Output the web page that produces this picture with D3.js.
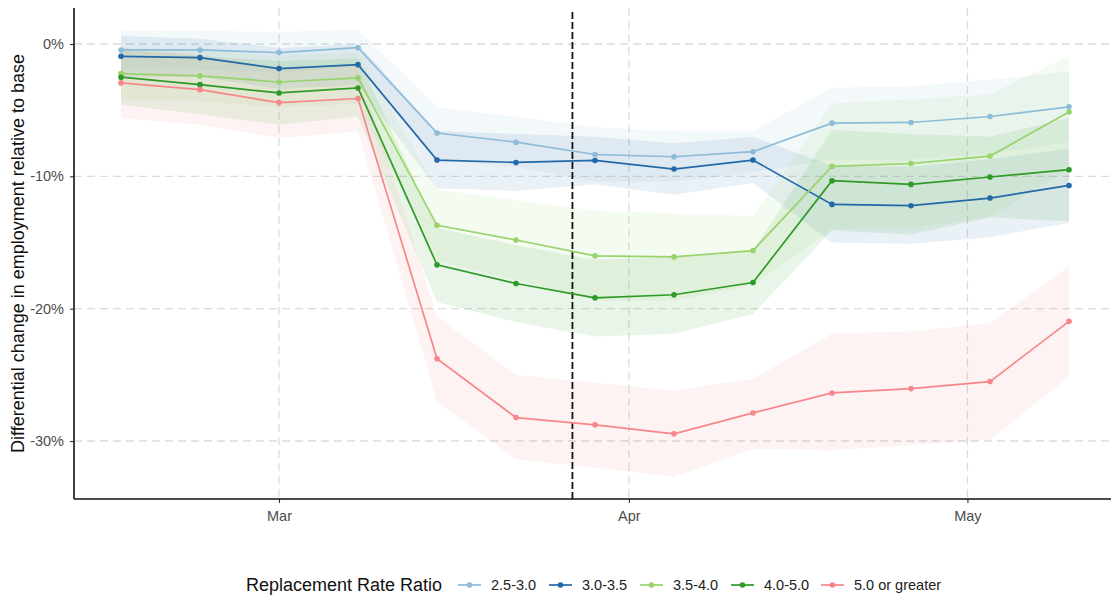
<!DOCTYPE html>
<html lang="en">
<head>
<meta charset="UTF-8">
<title>Replacement Rate Ratio</title>
<script src="https://d3js.org/d3.v7.min.js"></script>
<style>
    body { margin: 0; background: #fff; }
    #chart svg { font-family: "Liberation Sans", Arial, sans-serif; }
</style>
</head>
<body>
<div id="chart"></div>
<script>
// weekly observation dates
var dates = ["2020-02-16", "2020-02-23", "2020-03-01", "2020-03-08", "2020-03-15", "2020-03-22",
             "2020-03-29", "2020-04-05", "2020-04-12", "2020-04-19", "2020-04-26", "2020-05-03", "2020-05-10"];

var groups = ["2.5-3.0", "3.0-3.5", "3.5-4.0", "4.0-5.0", "5.0 or greater"];
var colors = ["#8cbcd8", "#2369a8", "#98d36c", "#2f9a27", "#f7868a"];

// point estimates (%)
var est_25_30 = [-0.45, -0.45, -0.65, -0.28, -6.73, -7.42, -8.35, -8.52, -8.14, -5.98, -5.93, -5.48, -4.75];
var est_30_35 = [-0.93, -1.03, -1.86, -1.56, -8.77, -8.95, -8.80, -9.45, -8.77, -12.12, -12.22, -11.64, -10.69];
var est_35_40 = [-2.24, -2.41, -2.87, -2.56, -13.70, -14.81, -16.01, -16.09, -15.61, -9.25, -9.03, -8.47, -5.13];
var est_40_50 = [-2.51, -3.07, -3.70, -3.32, -16.69, -18.10, -19.18, -18.95, -18.02, -10.33, -10.61, -10.05, -9.50];
var est_50_up = [-2.94, -3.45, -4.43, -4.12, -23.78, -28.23, -28.78, -29.46, -27.88, -26.37, -26.04, -25.51, -20.96];

// confidence band upper / lower edges (%)
var hi_25_30 = [1.0, 1.0, 0.9, 1.1, -4.8, -5.5, -6.3, -6.6, -6.6, -3.3, -3.2, -2.7, -2.1];
var lo_25_30 = [-1.9, -1.9, -2.2, -1.7, -8.7, -9.3, -10.4, -10.4, -9.7, -8.7, -8.7, -8.3, -7.4];
var hi_30_35 = [0.6, 0.4, -0.3, 0.0, -6.6, -6.8, -7.0, -7.5, -7.0, -9.2, -9.3, -8.7, -7.9];
var lo_30_35 = [-2.5, -2.5, -3.4, -3.1, -10.9, -11.1, -10.6, -11.4, -10.5, -15.0, -15.1, -14.6, -13.5];
var hi_35_40 = [-0.3, -0.5, -0.9, -0.6, -11.0, -11.8, -12.6, -12.8, -13.0, -4.5, -4.2, -3.8, -0.9];
var lo_35_40 = [-4.2, -4.3, -4.8, -4.5, -16.4, -17.8, -19.4, -19.4, -18.2, -14.0, -13.9, -13.1, -9.4];
var hi_40_50 = [-0.4, -0.9, -1.3, -1.1, -13.9, -15.2, -16.3, -16.1, -15.6, -6.5, -6.8, -7.0, -5.6];
var lo_40_50 = [-4.6, -5.3, -6.1, -5.5, -19.5, -21.0, -22.1, -21.9, -20.4, -14.1, -14.4, -13.1, -13.4];
var hi_50_up = [-0.3, -0.8, -1.8, -1.6, -20.6, -25.0, -25.6, -26.2, -25.3, -21.9, -21.7, -21.1, -16.8];
var lo_50_up = [-5.6, -6.1, -7.1, -6.6, -27.0, -31.4, -32.0, -32.7, -30.6, -30.7, -30.3, -29.9, -25.1];

var estimates = [est_25_30, est_30_35, est_35_40, est_40_50, est_50_up];
var highs = [hi_25_30, hi_30_35, hi_35_40, hi_40_50, hi_50_up];
var lows = [lo_25_30, lo_30_35, lo_35_40, lo_40_50, lo_50_up];

var xTicks = ["2020-03-01", "2020-04-01", "2020-05-01"];
var yTicks = [0, -10, -20, -30];
var policyDate = "2020-03-27";

var width = 1111, height = 596;
var pLeft = 74, pRight = 1111, pTop = 8, pBottom = 499;
var parse = d3.timeParse("%Y-%m-%d");

var svg = d3.select("#chart").append("svg")
    .attr("width", width)
    .attr("height", height);

// x: calibrate on first/last dates, then widen to the panel edges
var x = d3.scaleTime()
    .domain([parse(dates[0]), parse(dates[dates.length - 1])])
    .range([121, 1069]);
x.domain([x.invert(pLeft), x.invert(pRight)]).range([pLeft, pRight]);

var y = d3.scaleLinear().domain([-30, 0]).range([441, 44]);
y.domain([y.invert(pBottom), y.invert(pTop)]).range([pBottom, pTop]);

// grid
svg.append("g").selectAll("line")
    .data(yTicks)
    .enter().append("line")
    .attr("x1", pLeft).attr("x2", pRight)
    .attr("y1", d => y(d)).attr("y2", d => y(d))
    .attr("stroke", "#dcdcdc").attr("stroke-width", 1.3)
    .attr("stroke-dasharray", "8,5");

svg.append("g").selectAll("line")
    .data(xTicks)
    .enter().append("line")
    .attr("x1", d => x(parse(d))).attr("x2", d => x(parse(d)))
    .attr("y1", pTop).attr("y2", pBottom)
    .attr("stroke", "#dcdcdc").attr("stroke-width", 1.3)
    .attr("stroke-dasharray", "8,5");

// ribbons
var area = d3.area()
    .x(d => x(d.date))
    .y0(d => y(d.lo))
    .y1(d => y(d.hi));

var line = d3.line()
    .x(d => x(d.date))
    .y(d => y(d.v));

var series = groups.map(function(g, i) {
    return dates.map(function(dt, j) {
        return { date: parse(dt), v: estimates[i][j], lo: lows[i][j], hi: highs[i][j] };
    });
});

series.forEach(function(s, i) {
    svg.append("path")
        .datum(s)
        .attr("d", area)
        .attr("fill", colors[i])
        .attr("fill-opacity", 0.1);
});

// policy line
svg.append("line")
    .attr("x1", x(parse(policyDate))).attr("x2", x(parse(policyDate)))
    .attr("y1", 12).attr("y2", pBottom)
    .attr("stroke", "#111").attr("stroke-width", 1.8)
    .attr("stroke-dasharray", "7,3");

// lines and points
series.forEach(function(s, i) {
    svg.append("path")
        .datum(s)
        .attr("d", line)
        .attr("fill", "none")
        .attr("stroke", colors[i])
        .attr("stroke-width", 1.7);

    svg.append("g").selectAll("circle")
        .data(s)
        .enter().append("circle")
        .attr("cx", d => x(d.date))
        .attr("cy", d => y(d.v))
        .attr("r", 2.8)
        .attr("fill", colors[i]);
});

// axes
var xAxis = d3.axisBottom(x)
    .tickValues(xTicks.map(parse))
    .tickFormat(d3.timeFormat("%b"))
    .tickSize(4)
    .tickPadding(8);

var gx = svg.append("g")
    .attr("transform", `translate(0,${pBottom})`)
    .call(xAxis);
gx.select(".domain").remove();

var yAxis = d3.axisLeft(y)
    .tickValues(yTicks)
    .tickFormat(d => d + "%")
    .tickSize(4)
    .tickPadding(6);

var gy = svg.append("g")
    .attr("transform", `translate(${pLeft},0)`)
    .call(yAxis);
gy.select(".domain").remove();

[gx, gy].forEach(function(g) {
    g.selectAll(".tick line").attr("stroke", "#333").attr("stroke-width", 1.1);
    g.selectAll(".tick text")
        .attr("fill", "#4d4d4d")
        .style("font-size", "14.5px")
        .style("font-family", "Liberation Sans, Arial, sans-serif");
});

svg.append("line")
    .attr("x1", pLeft).attr("x2", pLeft)
    .attr("y1", pTop).attr("y2", pBottom)
    .attr("stroke", "#111").attr("stroke-width", 1.6);
svg.append("line")
    .attr("x1", pLeft).attr("x2", pRight)
    .attr("y1", pBottom).attr("y2", pBottom)
    .attr("stroke", "#111").attr("stroke-width", 1.6);

// y title
svg.append("text")
    .attr("transform", `translate(24,${(pTop + pBottom) / 2}) rotate(-90)`)
    .attr("text-anchor", "middle")
    .style("font-size", "18px")
    .attr("fill", "#111")
    .text("Differential change in employment relative to base");

// legend
var legendY = 585;
svg.append("text")
    .attr("x", 246).attr("y", legendY + 6)
    .style("font-size", "18px")
    .attr("fill", "#111")
    .text("Replacement Rate Ratio");

var keyX = [458, 549, 640, 731, 821];
groups.forEach(function(g, i) {
    var k = svg.append("g").attr("transform", `translate(${keyX[i]},${legendY})`);
    k.append("line")
        .attr("x1", 0).attr("x2", 23)
        .attr("stroke", colors[i]).attr("stroke-width", 1.7);
    k.append("circle")
        .attr("cx", 11.5).attr("r", 2.8)
        .attr("fill", colors[i]);
    k.append("text")
        .attr("x", 33).attr("y", 5)
        .style("font-size", "14.5px")
        .attr("fill", "#222")
        .text(g);
});
</script>
</body>
</html>
